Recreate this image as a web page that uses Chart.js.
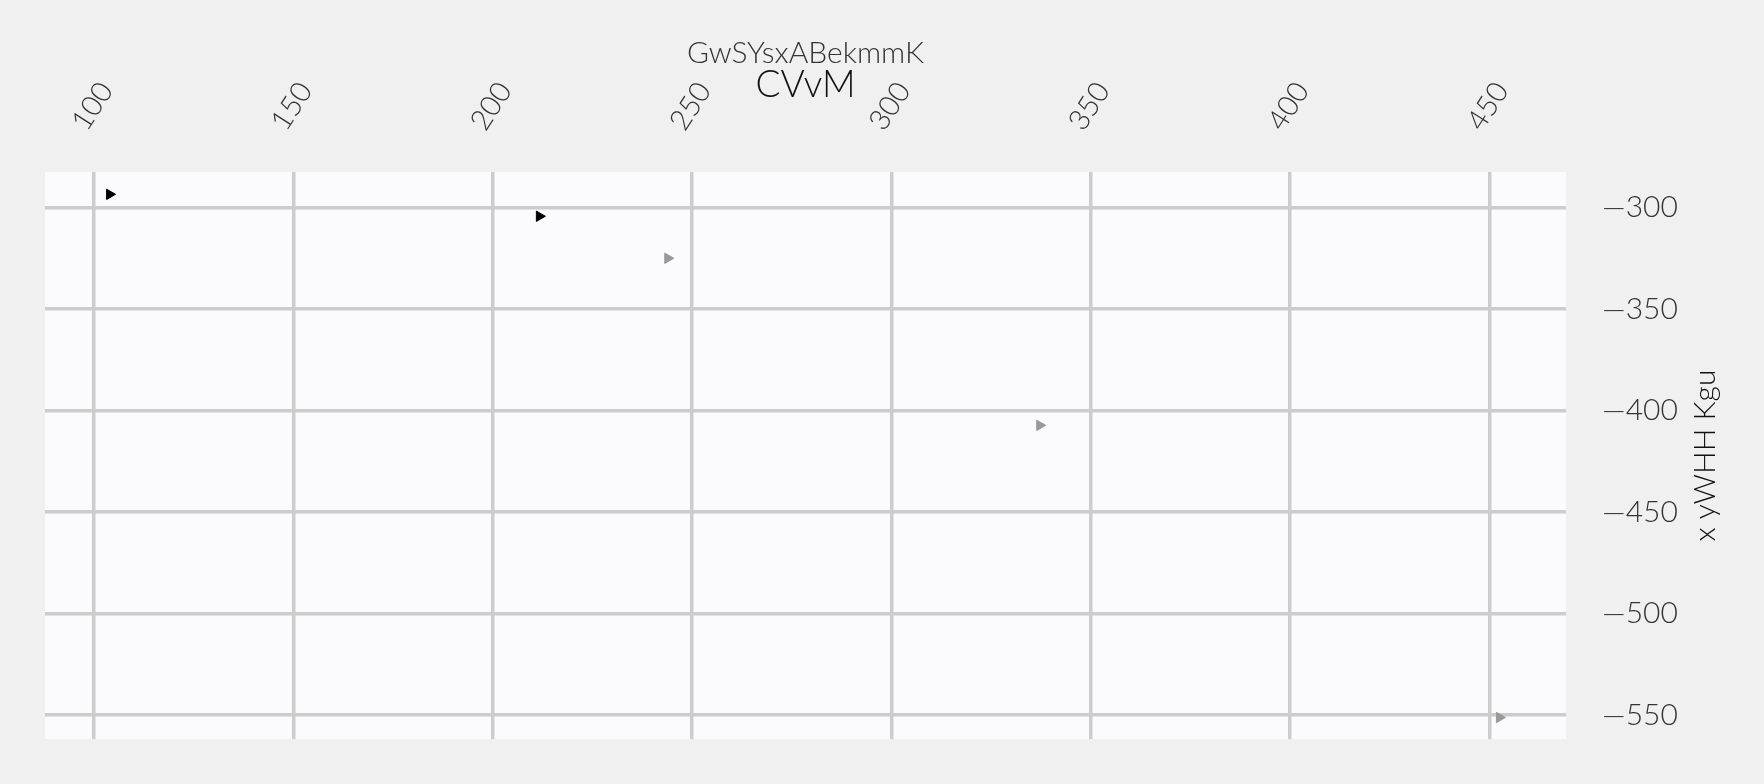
<!DOCTYPE html>
<html>
<head>
<meta charset="utf-8">
<script src="https://cdn.jsdelivr.net/npm/chart.js@4"></script>
<style>
  html, body { margin: 0; padding: 0; background: #f0f0f0; }
  #wrap { width: 1764px; height: 784px; }
</style>
</head>
<body>
<div id="wrap"><canvas id="chart"></canvas></div>
<script>
// datos
const seriesBlackX = [103.9, 211.7];
const seriesBlackY = [-293.4, -304.2];
const seriesGreyX = [243.9, 337.2, 452.5];
const seriesGreyY = [-324.9, -407.2, -551.1];

const titleText = "GwSYsxABekmmK";
const subtitleText = "CVvM";
const yAxisTitle = "x yWHH Kgu";

const xMin = 87.7, xMax = 469.2;
const yMin = -561.7, yMax = -282.4;

const FONT = "Lato";

function toPoints(xs, ys) {
  return xs.map((x, i) => ({ x: x, y: ys[i] }));
}

// fondo del area del grafico + titulo del eje y (leido de abajo a arriba)
const areaPlugin = {
  id: "areaPlugin",
  beforeDraw(chart) {
    const { ctx, chartArea: a } = chart;
    ctx.save();
    ctx.fillStyle = "#fbfbfd";
    ctx.fillRect(a.left, a.top, a.right - a.left, a.bottom - a.top);
    ctx.restore();
  },
  afterDraw(chart) {
    const { ctx, chartArea: a } = chart;
    ctx.save();
    ctx.translate(1705, (a.top + a.bottom) / 2);
    ctx.rotate(-Math.PI / 2);
    ctx.font = "300 30px " + FONT;
    ctx.fillStyle = "#111";
    ctx.textAlign = "center";
    ctx.textBaseline = "middle";
    ctx.fillText(yAxisTitle, 0, 0);
    ctx.restore();
  }
};

const ctx = document.getElementById("chart");
new Chart(ctx, {
  type: "scatter",
  data: {
    datasets: [{
      label: "black",
      data: toPoints(seriesBlackX, seriesBlackY),
      backgroundColor: "#000",
      borderColor: "#000",
      borderWidth: 1,
      pointStyle: "triangle",
      rotation: 90,
      pointRadius: 6
    }, {
      label: "grey",
      data: toPoints(seriesGreyX, seriesGreyY),
      backgroundColor: "#999",
      borderColor: "#999",
      borderWidth: 1,
      pointStyle: "triangle",
      rotation: 90,
      pointRadius: 6
    }]
  },
  options: {
    responsive: true,
    maintainAspectRatio: false,
    animation: false,
    layout: { padding: { left: 45, right: 0, top: 35, bottom: 45 } },
    plugins: {
      legend: { display: false },
      tooltip: { enabled: false },
      title: {
        display: true,
        text: titleText,
        fullSize: false,
        color: "#333",
        font: { family: FONT, size: 30, weight: "300" },
        padding: { top: 0, bottom: -10 }
      },
      subtitle: {
        display: true,
        text: subtitleText,
        fullSize: false,
        color: "#111",
        font: { family: FONT, size: 37, weight: "300" },
        padding: { top: 2, bottom: -30 }
      }
    },
    scales: {
      x: {
        type: "linear",
        position: "top",
        min: xMin,
        max: xMax,
        border: { display: false },
        grid: { color: "#cccccc", lineWidth: 3.5, drawTicks: false },
        afterFit: (scale) => { scale.height = 94.6; },
        ticks: {
          stepSize: 50,
          includeBounds: false,
          minRotation: 57,
          maxRotation: 57,
          padding: 35,
          labelOffset: 14,
          color: "#333",
          font: { family: FONT, size: 29, weight: "300" }
        }
      },
      y: {
        type: "linear",
        position: "right",
        min: yMin,
        max: yMax,
        border: { display: false },
        grid: { color: "#cccccc", lineWidth: 3.5, drawTicks: false },
        afterFit: (scale) => {
          scale.width = 198;
          scale.paddingTop = 0;
          scale.paddingBottom = 0;
        },
        ticks: {
          stepSize: 50,
          includeBounds: false,
          padding: 36,
          color: "#333",
          font: { family: FONT, size: 30, weight: "300" },
          callback: (v) => (v < 0 ? "\u2014" + Math.abs(v) : "" + v)
        }
      }
    }
  },
  plugins: [areaPlugin]
});
</script>
</body>
</html>
